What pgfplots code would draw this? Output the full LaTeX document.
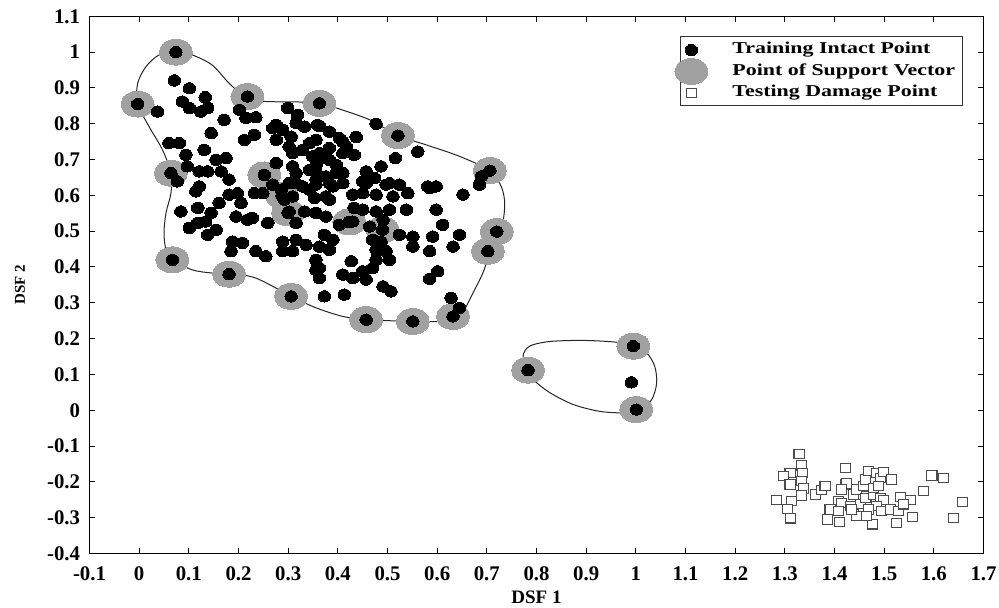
\documentclass[border=0pt]{standalone}
\usepackage{pgfplots}
\pgfplotsset{compat=1.18}
\usepackage{pgfplotstable}
\usepackage{graphicx}
\usepackage{fontspec}
\setmainfont{Liberation Serif}

\pgfplotstableread{
x y
0.037 0.834
0.071 0.921
0.101 0.899
0.087 0.862
0.101 0.844
0.133 0.874
0.138 0.844
0.124 0.834
0.202 0.839
0.215 0.816
0.235 0.818
0.171 0.811
0.145 0.774
0.299 0.844
0.319 0.825
0.333 0.792
0.269 0.788
0.289 0.783
0.306 0.764
0.212 0.755
0.232 0.769
0.276 0.755
0.060 0.746
0.081 0.746
0.094 0.713
0.131 0.727
0.155 0.699
0.175 0.704
0.097 0.681
0.121 0.667
0.138 0.667
0.165 0.667
0.181 0.644
0.077 0.639
0.121 0.625
0.269 0.630
0.276 0.690
0.309 0.718
0.329 0.727
0.349 0.709
0.316 0.662
0.343 0.671
0.356 0.644
0.302 0.634
0.329 0.625
0.477 0.800
0.561 0.722
0.689 0.653
0.685 0.630
0.516 0.704
0.487 0.681
0.437 0.763
0.363 0.794
0.383 0.778
0.403 0.760
0.417 0.736
0.356 0.755
0.383 0.732
0.433 0.713
0.370 0.704
0.397 0.685
0.410 0.662
0.356 0.667
0.457 0.667
0.474 0.648
0.450 0.639
0.504 0.634
0.524 0.630
0.581 0.625
0.598 0.625
0.383 0.634
0.410 0.634
0.114 0.611
0.181 0.602
0.198 0.606
0.205 0.579
0.161 0.579
0.145 0.551
0.118 0.565
0.084 0.555
0.101 0.509
0.118 0.523
0.134 0.527
0.138 0.490
0.155 0.504
0.195 0.541
0.218 0.532
0.228 0.537
0.259 0.523
0.232 0.606
0.249 0.606
0.292 0.588
0.309 0.597
0.302 0.555
0.333 0.555
0.316 0.523
0.343 0.616
0.286 0.616
0.188 0.471
0.208 0.467
0.185 0.444
0.235 0.444
0.255 0.430
0.289 0.471
0.289 0.444
0.316 0.476
0.336 0.462
0.309 0.444
0.356 0.420
0.356 0.392
0.356 0.630
0.390 0.625
0.457 0.634
0.497 0.630
0.585 0.620
0.652 0.602
0.430 0.602
0.450 0.606
0.477 0.602
0.511 0.597
0.541 0.606
0.383 0.588
0.353 0.593
0.433 0.565
0.450 0.560
0.477 0.555
0.504 0.560
0.538 0.560
0.598 0.560
0.356 0.551
0.376 0.541
0.403 0.518
0.430 0.527
0.464 0.513
0.491 0.532
0.611 0.518
0.524 0.490
0.551 0.485
0.591 0.485
0.645 0.490
0.632 0.457
0.585 0.444
0.551 0.457
0.373 0.490
0.390 0.476
0.363 0.457
0.383 0.448
0.470 0.476
0.487 0.471
0.497 0.444
0.477 0.448
0.504 0.420
0.477 0.420
0.427 0.416
0.363 0.397
0.470 0.397
0.450 0.388
0.410 0.379
0.430 0.369
0.457 0.365
0.601 0.388
0.585 0.367
0.363 0.369
0.491 0.346
0.507 0.332
0.373 0.318
0.413 0.323
0.628 0.314
0.645 0.286
0.276 0.797
0.316 0.802
0.359 0.797
0.410 0.750
0.302 0.736
0.343 0.746
0.363 0.718
0.383 0.699
0.410 0.718
0.309 0.681
0.356 0.685
0.376 0.653
0.397 0.662
0.316 0.634
0.376 0.597
0.074 1.000
-0.003 0.855
0.218 0.876
0.363 0.857
0.521 0.767
0.706 0.669
0.720 0.499
0.702 0.444
0.632 0.262
0.551 0.248
0.457 0.253
0.306 0.318
0.181 0.380
0.067 0.420
0.064 0.662
0.252 0.657
0.288 0.599
0.300 0.551
0.423 0.526
0.490 0.504
0.783 0.112
0.995 0.179
1.001 0.002
0.991 0.078
}\intact

\pgfplotstableread{
x y
0.074 1.000
-0.003 0.855
0.218 0.876
0.363 0.857
0.521 0.767
0.706 0.669
0.720 0.499
0.702 0.444
0.632 0.262
0.551 0.248
0.457 0.253
0.306 0.318
0.181 0.380
0.067 0.420
0.064 0.662
0.252 0.657
0.288 0.599
0.300 0.551
0.423 0.526
0.490 0.504
0.783 0.112
0.995 0.179
1.001 0.002
}\support

\pgfplotstableread{
x y
1.3286 -0.1217
1.3340 -0.1543
1.3105 -0.1747
1.2970 -0.1840
1.3354 -0.1747
1.3105 -0.2073
1.3340 -0.1980
1.3374 -0.2184
1.3340 -0.2379
1.3139 -0.2537
1.2836 -0.2510
1.3051 -0.2751
1.3118 -0.3020
1.3622 -0.2351
1.3743 -0.2231
1.3810 -0.2119
1.4214 -0.1608
1.4214 -0.2073
1.4247 -0.2045
1.4147 -0.2212
1.4079 -0.2537
1.4147 -0.2584
1.3911 -0.2770
1.4079 -0.2816
1.3858 -0.3049
1.4099 -0.3123
1.4382 -0.2351
1.4449 -0.2212
1.4583 -0.2119
1.4617 -0.1933
1.4684 -0.1701
1.4852 -0.1747
1.4919 -0.1887
1.4987 -0.1729
1.5155 -0.1933
1.4651 -0.2398
1.4516 -0.2630
1.4617 -0.2444
1.4785 -0.2351
1.4919 -0.2444
1.4987 -0.2510
1.4852 -0.2677
1.4953 -0.2816
1.4583 -0.2863
1.4684 -0.2770
1.4449 -0.2956
1.4765 -0.3188
1.5121 -0.2770
1.5289 -0.2816
1.5323 -0.2417
1.5524 -0.2510
1.5390 -0.2630
1.5255 -0.3142
1.5571 -0.2984
1.5793 -0.2259
1.5961 -0.1821
1.6196 -0.1887
1.6398 -0.3002
1.6579 -0.2556
1.4315 -0.2677
1.4349 -0.2770
1.4651 -0.2956
1.4785 -0.2165
1.4886 -0.2119
}\damage

\pgfplotstableread{
x y
0.074 1.000
0.107 0.992
0.147 0.964
0.181 0.913
0.208 0.881
0.228 0.868
0.256 0.862
0.357 0.859
0.397 0.844
0.464 0.811
0.521 0.767
0.578 0.741
0.645 0.709
0.706 0.669
0.729 0.625
0.736 0.579
0.732 0.523
0.720 0.476
0.704 0.430
0.692 0.383
0.672 0.327
0.655 0.281
0.639 0.253
0.611 0.248
0.551 0.248
0.457 0.253
0.410 0.262
0.356 0.286
0.306 0.318
0.269 0.346
0.235 0.369
0.202 0.379
0.148 0.383
0.107 0.392
0.067 0.420
0.054 0.448
0.050 0.495
0.054 0.551
0.064 0.606
0.064 0.662
0.047 0.727
0.020 0.792
-0.003 0.855
-0.003 0.913
0.014 0.960
0.040 0.992
}\bigcontour

\pgfplotstableread{
x y
0.783 0.112
0.773 0.151
0.786 0.179
0.827 0.192
0.894 0.195
0.961 0.190
0.995 0.179
1.022 0.160
1.038 0.123
1.042 0.076
1.032 0.030
1.008 0.002
0.974 -0.007
0.927 -0.003
0.874 0.016
0.827 0.049
0.793 0.086
}\smallcontour

\begin{document}
\begin{tikzpicture}
\begin{axis}[
  name=ax,
  scale only axis,
  width=447pt, height=268.6pt,
  xmin=-0.1, xmax=1.7, ymin=-0.4, ymax=1.1,
  xtick={-0.1,0,0.1,0.2,0.3,0.4,0.5,0.6,0.7,0.8,0.9,1,1.1,1.2,1.3,1.4,1.5,1.6,1.7},
  ytick={-0.4,-0.3,-0.2,-0.1,0,0.1,0.2,0.3,0.4,0.5,0.6,0.7,0.8,0.9,1,1.1},
  /pgf/number format/fixed,
  /pgf/number format/precision=1,
  /pgf/number format/assume math mode=true,
  tick label style={font=\fontsize{10.4}{12}\selectfont\bfseries},
  xticklabel style={inner ysep=6.2pt},
  yticklabel style={inner xsep=4.5pt},
  major tick length=3pt,
  every tick/.style={black, line width=0.5pt},
  axis line style={black, line width=0.6pt},
  xlabel={DSF 1},
  ylabel={DSF 2},
  xlabel style={font=\fontsize{9.5}{11}\selectfont\bfseries, at={(axis description cs:0.5,-0.081)}, anchor=center},
  ylabel style={font=\fontsize{7.5}{9}\selectfont\bfseries, at={(axis description cs:-0.0777,0.5)}, anchor=center},
  legend cell align=left,
  legend image code/.code={\path[draw=none,fill=none,use as bounding box] (0pt,-1pt) rectangle (22.5pt,1pt); \draw[#1] plot coordinates {(2pt,0pt)};},
  legend style={at={(axis description cs:0.9765,0.9625)}, anchor=north east,
    draw=black!80, line width=0.5pt, inner xsep=3.5pt, inner ysep=1.2pt,
    font=\fontsize{8.3}{10}\selectfont\bfseries,
    nodes={inner xsep=0pt, inner ysep=1.6pt, text height=5.6pt, text depth=1.9pt},
    column sep=0pt},
]
\addplot[black!37, only marks, mark=*, mark size=6.5pt, mark options={fill=black!37, draw=black!37, line width=0pt, xscale=1.27}, forget plot] table {\support};
\addplot[black!85, line width=0.5pt, smooth cycle, forget plot] table {\bigcontour};
\addplot[black!85, line width=0.5pt, smooth cycle, forget plot] table {\smallcontour};
\addplot[black, only marks, mark=*, mark size=2.85pt, mark options={fill=black, draw=black, line width=0pt, xscale=1.1}] table {\intact};
\addlegendentry{\scalebox{1.32}[1]{Training Intact Point}}
\addlegendimage{black!37, only marks, mark=*, mark size=6.5pt, mark options={fill=black!37, draw=black!37, line width=0pt, xscale=1.27}}
\addlegendentry{\scalebox{1.32}[1]{Point of Support Vector}}
\addplot[black!70, only marks, mark=square*, mark size=2.3pt, mark options={fill=white, draw=black!70, line width=0.55pt, xscale=1.1}] table {\damage};
\addlegendentry{\scalebox{1.32}[1]{Testing Damage Point}}
\end{axis}
\pgfresetboundingbox
\path ([xshift=-44.75pt,yshift=-26.75pt]ax.south west) rectangle ([xshift=7.75pt,yshift=8.15pt]ax.north east);
\end{tikzpicture}
\end{document}
